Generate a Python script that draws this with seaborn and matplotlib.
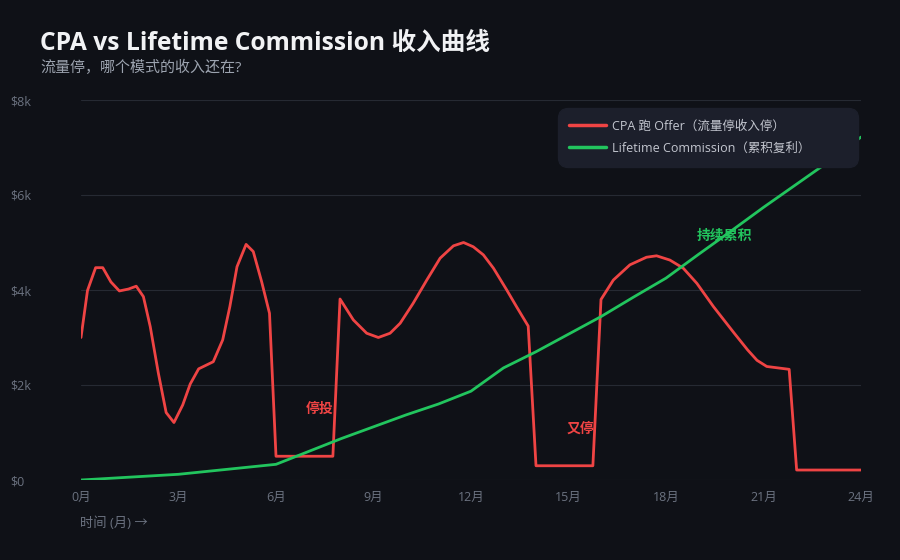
import matplotlib
matplotlib.use("Agg")
import matplotlib.pyplot as plt
import seaborn as sns
import pandas as pd

# ---- data ----
cpa_month = [0, 0.2, 0.45, 0.67, 0.92, 1.18, 1.46, 1.7, 1.92, 2.13, 2.38, 2.62, 2.86, 3.13,
             3.36, 3.62, 4.07, 4.36, 4.58, 4.8, 5.08, 5.3, 5.56, 5.8, 6.0, 7.75, 7.97, 8.38,
             8.79, 9.15, 9.51, 9.82, 10.22, 10.64, 11.05, 11.46, 11.77, 12.07, 12.38, 12.69,
             13.1, 13.4, 13.76, 14.0, 15.75, 16.0, 16.38, 16.89, 17.4, 17.71, 18.12, 18.53,
             18.95, 19.46, 20.1, 20.51, 20.8, 21.1, 21.79, 22.02, 24]
cpa_income = [3000, 3990, 4470, 4470, 4170, 3980, 4020, 4080, 3860, 3230, 2250, 1420, 1210, 1580,
              2020, 2340, 2490, 2950, 3650, 4490, 4960, 4810, 4170, 3510, 500, 500, 3810, 3370,
              3090, 3000, 3090, 3300, 3720, 4210, 4670, 4930, 5000, 4910, 4740, 4460,
              4000, 3650, 3240, 300, 300, 3800, 4210, 4530, 4690, 4720, 4630, 4460,
              4140, 3650, 3090, 2740, 2520, 2390, 2330, 210, 210]

lt_month = list(range(0, 25))
lt_income = [0, 40, 80, 120, 190, 260, 330, 600, 870, 1120, 1370, 1600, 1870, 2360, 2700,
             3070, 3440, 3850, 4250, 4750, 5240, 5740, 6220, 6700, 7220]

cpa_label = "CPA 跑 Offer（流量停收入停）"
lt_label = "Lifetime Commission（累积复利）"
x_ticks = [0, 3, 6, 9, 12, 15, 18, 21, 24]
x_tick_labels = [f"{m}月" for m in x_ticks]
y_ticks = [0, 2000, 4000, 6000, 8000]
y_tick_labels = ["$0", "$2k", "$4k", "$6k", "$8k"]

title = "CPA vs Lifetime Commission 收入曲线"
subtitle = "流量停，哪个模式的收入还在?"
xlabel = "时间 (月) →"

# ---- style ----
BG = "#0f1117"
RED = "#ef4444"
GREEN = "#22c55e"
GRID = "#262a33"
TICK = "#6b7280"

sns.set_theme(style="dark")
plt.rcParams["font.family"] = ["Open Sans", "Noto Sans CJK SC", "DejaVu Sans"]

fig = plt.figure(figsize=(9, 5.6), dpi=100, facecolor=BG)
ax = fig.add_axes([81 / 900, 1 - 480 / 560, 780 / 900, 380 / 560])
ax.set_facecolor(BG)

cpa_df = pd.DataFrame({"month": cpa_month, "income": cpa_income})
lt_df = pd.DataFrame({"month": lt_month, "income": lt_income})

sns.lineplot(data=cpa_df, x="month", y="income", ax=ax, color=RED, lw=2.0,
             label=cpa_label, sort=False)
sns.lineplot(data=lt_df, x="month", y="income", ax=ax, color=GREEN, lw=2.0,
             label=lt_label, sort=False)

ax.set_xlim(0, 24)
ax.set_ylim(0, 8000)
ax.set_xticks(x_ticks)
ax.set_xticklabels(x_tick_labels)
ax.set_yticks(y_ticks)
ax.set_yticklabels(y_tick_labels, ha="left")
ax.tick_params(axis="y", length=0, pad=51, labelsize=9, colors=TICK)
ax.tick_params(axis="x", length=0, pad=8, labelsize=9, colors=TICK)
ax.set_xlabel("")
ax.set_ylabel("")
ax.grid(axis="y", color=GRID, lw=0.8)
ax.grid(axis="x", visible=False)
for s in ax.spines.values():
    s.set_visible(False)

# annotations
ax.text(7.35, 1490, "停投", color=RED, fontsize=10, fontweight="bold", ha="center", va="center")
ax.text(15.37, 1070, "又停", color=RED, fontsize=10, fontweight="bold", ha="center", va="center")
ax.text(19.8, 5130, "持续累积", color=GREEN, fontsize=10, fontweight="bold", ha="center", va="center")

leg_left = (560 - 81) / 780
leg_right = (855 - 81) / 780
leg_top = (480 - 110) / 380
leg = ax.legend(loc="upper left", bbox_to_anchor=(leg_left, 0, leg_right - leg_left, leg_top),
                mode="expand", frameon=True, fontsize=9, facecolor="#1c1f2b",
                edgecolor="#1c1f2b", labelcolor="#c3c6cf", borderpad=0.75,
                labelspacing=0.75, handlelength=2.9, handletextpad=0.55,
                borderaxespad=0.0, fancybox=True, framealpha=1.0)
leg.get_frame().set_boxstyle("round", pad=0.2, rounding_size=0.8)
for line in leg.get_lines():
    line.set_linewidth(2.5)

fig.text(40 / 900, 1 - 43 / 560, title, color="#f1f2f4", fontsize=17.7, fontweight="bold",
         ha="left", va="center")
fig.text(40 / 900, 1 - 68 / 560, subtitle, color="#9ca3af", fontsize=10.8,
         ha="left", va="center")
fig.text(80 / 900, 1 - 523 / 560, xlabel, color=TICK, fontsize=9.5, ha="left", va="center")

fig.savefig("out.png", dpi=100, facecolor=BG)
